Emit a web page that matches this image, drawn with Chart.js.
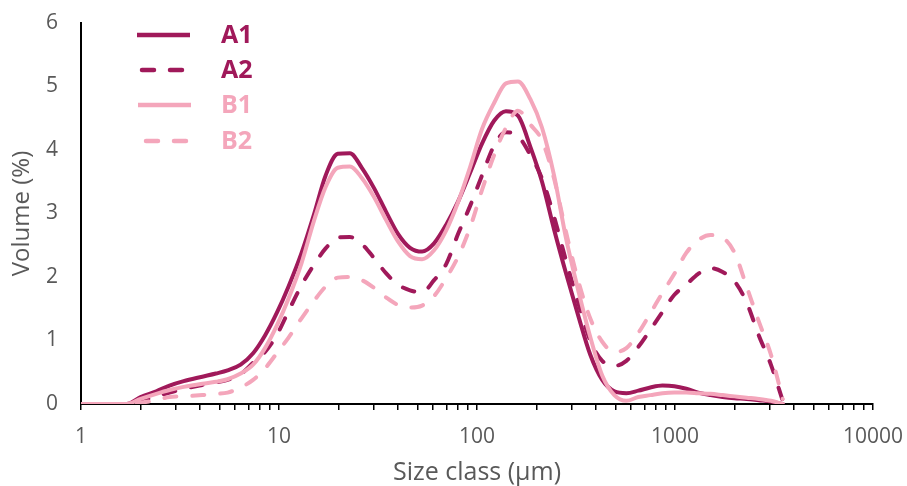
<!DOCTYPE html>
<html><head><meta charset="utf-8">
<script src="https://cdn.jsdelivr.net/npm/chart.js@4"></script>
<style>html,body{margin:0;padding:0;background:#fff}#wrap{width:907px;height:486px}</style>
</head><body><div id="wrap"><canvas id="c" width="907" height="486"></canvas></div>
<script>
// Size classes (µm)
const sizes = [1, 1.7, 2, 2.4, 2.8, 3.3, 4.1, 4.8, 5.5, 6.4, 7.4, 8.5, 9.8, 11.2, 13, 15, 17.2, 19.8, 22.8, 26.2, 30.2, 34.7, 39.9, 45.9, 52.8, 60.7, 69.8, 80.3, 92.3, 106, 122, 140, 161, 186, 213, 245, 282, 324, 373, 429, 494, 568, 653, 751, 864, 993, 1140, 1310, 1510, 1740, 2000, 2300, 2650, 3050, 3500];
// Volume (%) per series
const a1 = [0, 0, 0.11, 0.20, 0.29, 0.36, 0.43, 0.48, 0.53, 0.62, 0.80, 1.08, 1.45, 1.86, 2.38, 2.98, 3.60, 3.94, 3.95, 3.72, 3.40, 3.03, 2.68, 2.46, 2.40, 2.53, 2.82, 3.19, 3.64, 4.10, 4.46, 4.61, 4.54, 4.05, 3.50, 2.75, 2.05, 1.40, 0.78, 0.38, 0.20, 0.17, 0.21, 0.26, 0.29, 0.28, 0.24, 0.18, 0.14, 0.11, 0.09, 0.08, 0.06, 0.04, 0.0];
const a2 = [0, 0, 0.05, 0.12, 0.18, 0.24, 0.30, 0.34, 0.38, 0.47, 0.65, 0.82, 1.10, 1.47, 1.87, 2.19, 2.45, 2.62, 2.63, 2.52, 2.30, 2.06, 1.88, 1.79, 1.76, 1.95, 2.20, 2.68, 3.12, 3.60, 4.07, 4.28, 4.22, 3.92, 3.55, 2.95, 2.25, 1.60, 1.00, 0.68, 0.60, 0.68, 0.90, 1.17, 1.45, 1.72, 1.88, 2.05, 2.14, 2.08, 1.93, 1.60, 1.08, 0.62, 0.05];
const b1 = [0, 0, 0.08, 0.16, 0.22, 0.27, 0.32, 0.35, 0.39, 0.48, 0.62, 0.88, 1.25, 1.67, 2.22, 2.88, 3.42, 3.72, 3.74, 3.56, 3.26, 2.90, 2.56, 2.33, 2.28, 2.42, 2.73, 3.18, 3.73, 4.33, 4.74, 5.05, 5.08, 4.80, 4.35, 3.60, 2.60, 1.80, 1.06, 0.45, 0.14, 0.05, 0.11, 0.14, 0.17, 0.18, 0.18, 0.17, 0.16, 0.14, 0.12, 0.10, 0.08, 0.05, 0.0];
const b2 = [0, 0, 0.02, 0.06, 0.11, 0.12, 0.14, 0.16, 0.18, 0.26, 0.38, 0.56, 0.81, 1.05, 1.35, 1.62, 1.85, 1.99, 2.00, 1.95, 1.83, 1.68, 1.56, 1.52, 1.55, 1.70, 1.98, 2.32, 2.78, 3.37, 3.92, 4.35, 4.62, 4.40, 4.15, 3.55, 2.70, 1.95, 1.35, 0.98, 0.82, 0.88, 1.12, 1.43, 1.75, 2.05, 2.38, 2.58, 2.66, 2.62, 2.38, 1.85, 1.30, 0.78, 0.08];
const seriesNames = ['A1', 'A2', 'B1', 'B2'];
const xTickLabels = ['1', '10', '100', '1000', '10000'];
const yTickLabels = ['0', '1', '2', '3', '4', '5', '6'];

const DARK = '#A0195A', LIGHT = '#F4A6BB';
const FONT = '"Open Sans", "Noto Sans", sans-serif';
const toPts = arr => arr.map((v, i) => ({x: sizes[i], y: v}));

function ds(label, data, color, dashed, order) {
  return {
    label, data: toPts(data), borderColor: color, backgroundColor: color,
    borderWidth: 4, borderDash: dashed ? [12, 16] : [], borderCapStyle: 'round',
    borderJoinStyle: 'round', pointRadius: 0, fill: false,
    cubicInterpolationMode: 'monotone', order
  };
}

const legendPlugin = {
  id: 'customLegend',
  afterDraw(chart) {
    const ctx = chart.ctx;
    const rows = [35, 70, 105, 141];
    const spans = [[137, 190], [142, 186], [138, 191], [146, 190]];
    chart.data.datasets.forEach((d, i) => {
      const y = rows[i];
      ctx.save();
      ctx.strokeStyle = d.borderColor;
      ctx.lineWidth = 4.5;
      ctx.lineCap = d.borderDash.length ? 'round' : 'butt';
      ctx.setLineDash(d.borderDash);
      ctx.beginPath(); ctx.moveTo(spans[i][0], y); ctx.lineTo(spans[i][1], y); ctx.stroke();
      ctx.setLineDash([]);
      ctx.fillStyle = d.borderColor;
      ctx.font = 'bold 25px ' + FONT;
      ctx.textBaseline = 'middle';
      ctx.textAlign = 'left';
      ctx.fillText(d.label, 221, y + 1);
      ctx.restore();
    });
  }
};

new Chart(document.getElementById('c'), {
  type: 'line',
  data: {
    datasets: [
      ds(seriesNames[0], a1, DARK, false, 4),
      ds(seriesNames[1], a2, DARK, true, 3),
      ds(seriesNames[2], b1, LIGHT, false, 2),
      ds(seriesNames[3], b2, LIGHT, true, 1)
    ]
  },
  options: {
    responsive: false, animation: false, devicePixelRatio: 1,
    layout: {padding: {top: 23, right: 34, left: 0, bottom: 0}},
    plugins: {legend: {display: false}, tooltip: {enabled: false}},
    scales: {
      x: {
        type: 'logarithmic', min: 1, max: 10000,
        afterFit(s) { s.height = 82; s.paddingLeft = 0; s.paddingRight = 0; },
        afterBuildTicks(s) {
          const t = [];
          for (let e = 0; e < 4; e++) for (let m = 1; m < 10; m++) t.push({value: m * Math.pow(10, e)});
          t.push({value: 10000});
          s.ticks = t;
        },
        border: {display: true, color: '#000', width: 2},
        grid: {drawOnChartArea: false, drawTicks: true, tickLength: 6, color: '#000', lineWidth: 1.5},
        ticks: {
          autoSkip: false, maxRotation: 0, padding: 14, color: '#595959',
          font: {family: FONT, size: 21},
          callback(v) {
            const l = Math.log10(v), r = Math.round(l);
            return Math.abs(l - r) < 1e-9 ? xTickLabels[r] : '';
          }
        },
        title: {display: true, text: 'Size class (μm)', color: '#595959', font: {family: FONT, size: 25}, padding: {top: 0, bottom: -2}}
      },
      y: {
        min: 0, max: 6,
        afterFit(s) { s.width = 81; s.paddingTop = 0; s.paddingBottom = 0; },
        border: {display: true, color: '#000', width: 2},
        grid: {drawOnChartArea: false, drawTicks: false},
        ticks: {stepSize: 1, padding: 23, color: '#595959', font: {family: FONT, size: 21},
          callback(v) { return yTickLabels[Math.round(v)]; }},
        title: {display: true, text: 'Volume (%)', color: '#595959', font: {family: FONT, size: 24}, padding: {top: 8, bottom: 0}}
      }
    }
  },
  plugins: [legendPlugin]
});
</script></body></html>
